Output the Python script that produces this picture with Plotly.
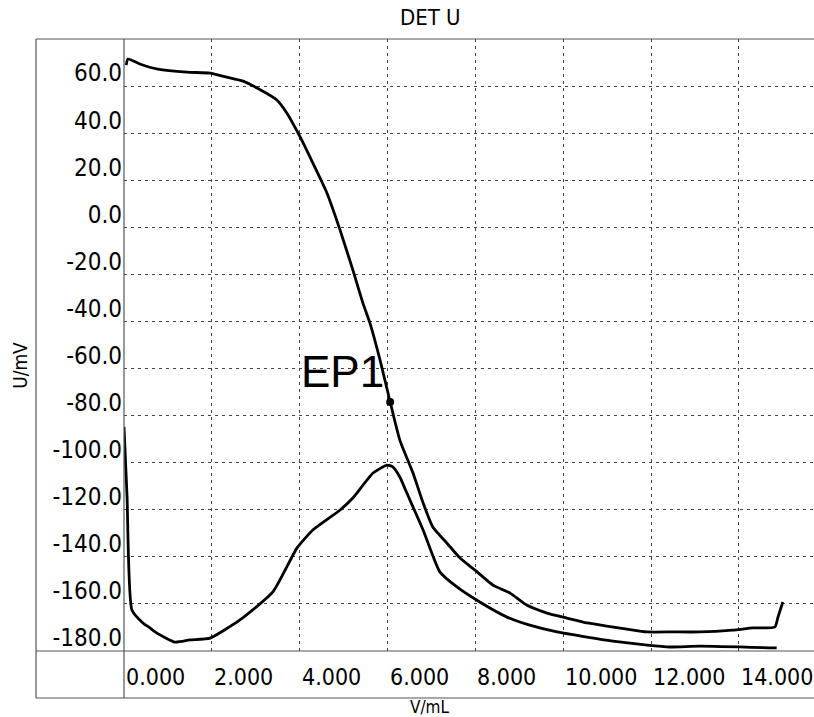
import plotly.graph_objects as go

# ---- data ----
volume_u = [0.05, 0.09, 0.36, 0.77, 1.43, 1.96, 2.34, 2.71, 3.03, 3.48, 3.71, 4.01, 4.30, 4.62,
            4.92, 5.21, 5.44, 5.60, 5.83, 6.06, 6.28, 6.58, 6.81, 7.03, 7.35, 7.65, 8.04, 8.40,
            8.79, 9.17, 9.63, 10.08, 10.54, 10.99, 11.45, 11.91, 12.50, 13.11, 13.86, 14.32,
            14.82, 14.89, 15.00]
potential_u = [68.9, 71.5, 69.4, 67.2, 65.9, 65.5, 63.8, 62.1, 59.2, 54.1, 48.5, 38.4, 27.3, 14.6,
               -1.2, -18.1, -32.2, -40.7, -56.4, -74.2, -90.4, -104.4, -117.1, -127.3, -134.1,
               -140.5, -146.4, -152.0, -155.4, -160.5, -163.9, -166.0, -168.1, -169.4, -170.7,
               -171.9, -171.9, -171.9, -171.1, -170.2, -169.8, -165.6, -159.2]

volume_d = [0.00, 0.07, 0.18, 0.43, 0.59, 0.75, 1.16, 1.50, 1.96, 2.64, 3.39, 3.94, 4.30, 4.92,
            5.21, 5.67, 5.99, 6.12, 6.28, 6.44, 6.81, 7.19, 7.58, 8.10, 8.72, 9.24, 9.86, 10.54,
            11.13, 11.91, 12.43, 13.11, 14.86]
signal_d = [-84.8, -114.6, -162.6, -168.1, -170.2, -172.4, -176.2, -175.3, -174.5, -166.8, -154.9,
            -136.2, -128.6, -120.1, -115.0, -104.4, -101.0, -101.8, -106.1, -112.9, -128.6, -146.4,
            -152.8, -159.2, -165.6, -169.0, -171.9, -174.1, -175.8, -177.5, -178.3, -177.9, -178.7]

ep_volume = [6.06]
ep_potential = [-74.2]
ep_label = "EP1"

x_ticks = [0, 2, 4, 6, 8, 10, 12, 14]
x_tick_text = ["0.000", "2.000", "4.000", "6.000", "8.000", "10.000", "12.000", "14.000"]
y_ticks = [-180, -160, -140, -120, -100, -80, -60, -40, -20, 0, 20, 40, 60]
y_tick_text = ["-180.0", "-160.0", "-140.0", "-120.0", "-100.0", "-80.0", "-60.0", "-40.0",
               "-20.0", "0.0", "20.0", "40.0", "60.0"]

NARROW = "DejaVu Sans Condensed, Liberation Sans Narrow, Arial Narrow, sans-serif"
ARIAL = "Liberation Sans, Arial, sans-serif"

fig = go.Figure()
fig.add_trace(go.Scatter(x=volume_u, y=potential_u, mode="lines",
                         line=dict(color="black", width=2.8, shape="spline", smoothing=0.5),
                         showlegend=False))
fig.add_trace(go.Scatter(x=volume_d, y=signal_d, mode="lines",
                         line=dict(color="black", width=2.8, shape="spline", smoothing=0.5),
                         showlegend=False))
fig.add_trace(go.Scatter(x=ep_volume, y=ep_potential, mode="markers",
                         marker=dict(color="black", size=8), showlegend=False))

annotations = []
for v, t in zip(x_ticks, x_tick_text):
    annotations.append(dict(x=v, y=-0.043, xref="x", yref="paper", text=t, showarrow=False,
                            xanchor="left", yanchor="middle", xshift=0,
                            font=dict(family=NARROW, size=23, color="black")))
annotations.append(dict(x=ep_volume[0], y=ep_potential[0], xref="x", yref="y", text=ep_label,
                        showarrow=False, xanchor="right", yanchor="bottom", xshift=-4, yshift=4,
                        font=dict(family=ARIAL, size=44, color="black")))
annotations.append(dict(x=0.4435, y=1.0355, xref="paper", yref="paper", text="DET U",
                        showarrow=False, xanchor="center", yanchor="middle",
                        font=dict(family=NARROW, size=22, color="black")))
annotations.append(dict(x=0.4435, y=-0.0725, xref="paper", yref="paper", text="V/mL",
                        showarrow=False, xanchor="center", yanchor="top",
                        font=dict(family=NARROW, size=17, color="black")))
annotations.append(dict(x=-0.1507, y=0.466, xref="paper", yref="paper", text="U/mV",
                        showarrow=False, textangle=-90, xanchor="center", yanchor="middle",
                        font=dict(family=NARROW, size=19, color="black")))

frame = dict(color="#555", width=1.2)
shapes = [
    dict(type="line", xref="paper", yref="paper", x0=-0.1275, x1=1.0, y0=1, y1=1, line=frame),
    dict(type="line", xref="paper", yref="paper", x0=-0.1275, x1=-0.1275, y0=-0.0768, y1=1, line=frame),
    dict(type="line", xref="paper", yref="paper", x0=-0.1275, x1=1.0, y0=-0.0768, y1=-0.0768, line=frame),
    dict(type="line", xref="paper", yref="paper", x0=-0.1275, x1=1.0, y0=0, y1=0, line=frame),
    dict(type="line", xref="paper", yref="paper", x0=0, x1=0, y0=-0.0768, y1=1, line=frame),
]

fig.update_layout(
    width=814, height=717,
    margin=dict(l=124, r=0, t=39, b=66),
    paper_bgcolor="white", plot_bgcolor="white",
    annotations=annotations, shapes=shapes,
    xaxis=dict(range=[0, 15.71], tickvals=x_ticks, showticklabels=False, ticks="",
               showgrid=True, gridcolor="#444", griddash="3px,4px", gridwidth=1,
               zeroline=False, showline=False),
    yaxis=dict(range=[-180, 80], tickvals=y_ticks, ticktext=y_tick_text, ticks="",
               showgrid=True, gridcolor="#444", griddash="3px,4px", gridwidth=1,
               zeroline=False, showline=False, ticklabelshift=-13, ticklabelstandoff=1,
               tickfont=dict(family=NARROW, size=24, color="black")),
)

fig.write_html("out.html", config={"displayModeBar": False, "staticPlot": True},
               post_script="document.body.style.margin='0';document.body.style.overflow='hidden';")
